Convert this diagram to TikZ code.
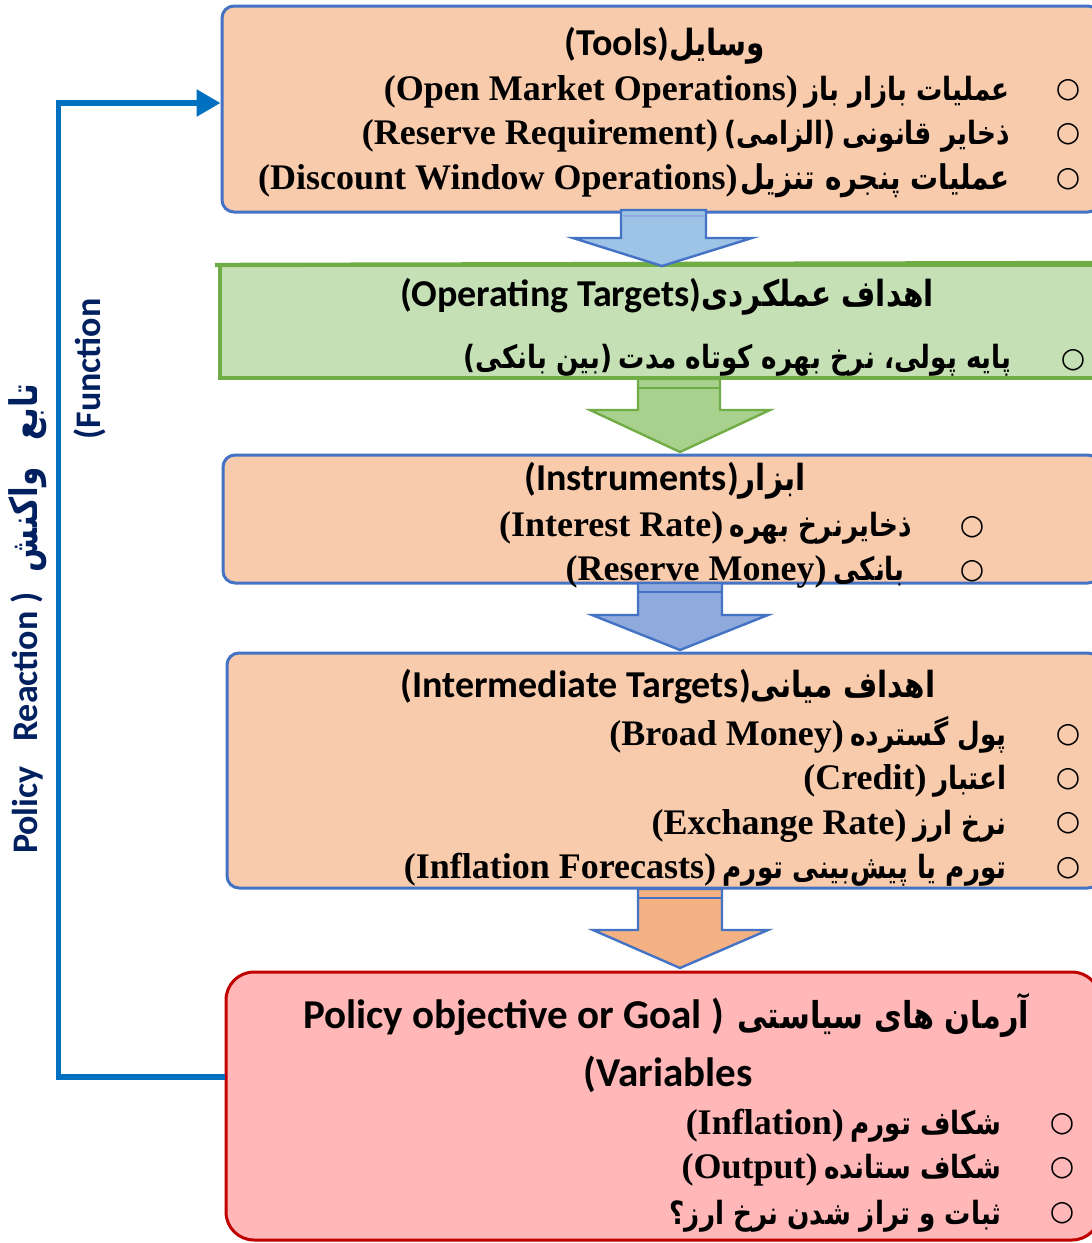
\documentclass[tikz,border=0pt]{standalone}
\usepackage{fontspec}
\usetikzlibrary{arrows.meta}
\TeXXeTstate=1
\newfontfamily\fafont[Script=Arabic,FakeStretch=0.82]{DejaVu Sans}
\newfontfamily\latserif{Liberation Serif}
\newfontfamily\latsans{Carlito}
\newfontfamily\symfont{DejaVu Sans}
\newcommand\fa[2][16]{{\fafont\bfseries\fontsize{#1pt}{#1pt}\selectfont\beginR #2\endR}}
\newcommand\fp[2][16]{{\fafont\bfseries\fontsize{#1pt}{#1pt}\selectfont #2}}
\newcommand\la[1]{{\latserif\bfseries\fontsize{18pt}{20pt}\selectfont #1}}
\newcommand\ti[2][19]{{\latsans\bfseries\fontsize{#1pt}{#1pt}\selectfont #2}}
\definecolor{peach}{HTML}{F8CBAD}
\definecolor{bblue}{HTML}{4472C4}
\definecolor{gfill}{HTML}{C5E0B4}
\definecolor{gline}{HTML}{70AD47}
\definecolor{a1fill}{HTML}{9DC3E6}
\definecolor{a2fill}{HTML}{A9D18E}
\definecolor{a3fill}{HTML}{8FAADC}
\definecolor{a4fill}{HTML}{F4B183}
\definecolor{pinkfill}{HTML}{FFB7B7}
\definecolor{redline}{HTML}{C00000}
\definecolor{fbblue}{HTML}{0070C0}
\definecolor{navy}{HTML}{002060}
\begin{document}
\begin{tikzpicture}[x=0.5pt,y=-0.5pt,
  peachbox/.style={draw=bblue,fill=peach,line width=1.5pt,rounded corners=6pt,inner sep=0pt},
  greenbox/.style={draw=gline,fill=gfill,line width=2pt,inner sep=0pt},
  goalbox/.style={draw=redline,fill=pinkfill,line width=1.5pt,rounded corners=14pt,inner sep=0pt},
  blockarrow/.style={line width=1.2pt,line join=miter},
  txt/.style={inner sep=0pt,anchor=base east},
  ttl/.style={inner sep=0pt,anchor=base},
  bul/.style={inner sep=0pt,font=\symfont\fontsize{14pt}{14pt}\selectfont},
  fb/.style={draw=fbblue,line width=2.8pt,-{Triangle[length=12pt,width=13pt]}},
  side/.style={inner sep=0pt,rotate=90,text=navy}
]
\useasboundingbox (0,0) rectangle (1092,1243);
\clip (0,0) rectangle (1092,1243);
\fill[white] (0,0) rectangle (1092,1243);

% boxes
\node[peachbox,minimum width=439pt,minimum height=103pt] (box1) at (661,109) {};
\node[greenbox,minimum width=440pt,minimum height=56.5pt] (box2) at (660,321.5) {};
\draw[gline,line width=2.2pt] (215,265) -- (box2.north east);
\node[peachbox,minimum width=438.5pt,minimum height=64pt] (box3) at (661.5,519) {};
\node[peachbox,minimum width=436.5pt,minimum height=117.5pt] (box4) at (663.5,770.5) {};
\node[goalbox,minimum width=437pt,minimum height=134pt] (box5) at (663,1106) {};

% block arrows
\filldraw[blockarrow,draw=bblue,fill=a1fill] (621,210) -- (706,210) -- (706,238) -- (752,238) -- (662,266) -- (573,238) -- (621,238) -- cycle;
\draw[bblue!60!white,line width=0.6pt] (623,216) -- (704,216);
\filldraw[blockarrow,draw=gline,fill=a2fill] (638,379) -- (720,379) -- (720,410) -- (770,410) -- (680,452) -- (590,410) -- (638,410) -- cycle;
\draw[gline,line width=1.2pt] (639,388) -- (719,388);
\filldraw[blockarrow,draw=bblue,fill=a3fill] (638,583) -- (722,583) -- (722,615) -- (768,615) -- (680,650) -- (592,615) -- (638,615) -- cycle;
\draw[bblue,line width=1.2pt] (639,592) -- (721,592);
\filldraw[blockarrow,draw=bblue,fill=a4fill] (638,889) -- (722,889) -- (722,930) -- (768,930) -- (680,968) -- (593,930) -- (638,930) -- cycle;
\draw[bblue,line width=1.2pt] (639,898) -- (721,898);

% feedback
\draw[fb] ([yshift=14.5pt]box5.west) -- ++(-166,0) |- ([yshift=3pt]box1.west);

% box 1 text
\node[ttl] (t1) at (665,55) {\ti{(Tools)}\fa[18]{وسایل}};
\node[txt] (i1a) at (1010,100) {\la{(Open Market Operations)}\ \fa{عملیات بازار باز}};
\node[txt] (i1b) at (1010,144) {\la{(Reserve Requirement)}\ \fp{)}\fa{الزامی}\fp{(}\ \fa{ذخایر قانونی}};
\node[txt] (i1c) at (1010,189) {\la{(Discount Window Operations)}\,\fa[17]{عملیات پنجره تنزیل}};
\node[bul] (b1a) at (1068,90) {○};
\node[bul] (b1b) at (1068,134) {○};
\node[bul] (b1c) at (1068,179) {○};

% box 2 text
\node[ttl] (t2) at (667,306) {\ti{(Operating Targets)}\fa[18]{اهداف عملکردی}};
\node[txt] (i2a) at (1012,368) {\fp{)}\fa{بین بانکی}\fp{(}\ \fa{پایه پولی، نرخ بهره کوتاه مدت}};
\node[bul] (b2a) at (1073,360) {○};

% box 3 text
\node[ttl] (t3) at (665,490) {\ti{(Instruments)}\fa[18]{ابزار}};
\node[txt] (i3a) at (912,536) {\la{(Interest Rate)}\ \fa{ذخایرنرخ بهره}};
\node[txt] (i3b) at (905,580) {\la{(Reserve Money)}\ \fa{بانکی}};
\node[bul] (b3a) at (972,527) {○};
\node[bul] (b3b) at (972,571) {○};

% box 4 text
\node[ttl] (t4) at (668,697) {\ti{(Intermediate Targets)}\fa[18]{اهداف میانی}};
\node[txt] (i4a) at (1007,745) {\la{(Broad Money)}\ \fa{پول گسترده}};
\node[txt] (i4b) at (1007,789) {\la{(Credit)}\ \fa{اعتبار}};
\node[txt] (i4c) at (1007,834) {\la{(Exchange Rate)}\ \fa{نرخ ارز}};
\node[txt] (i4d) at (1007,878) {\la{(Inflation Forecasts)}\ \fa{تورم یا پیش‌بینی تورم}};
\node[bul] (b4a) at (1068,735) {○};
\node[bul] (b4b) at (1068,779) {○};
\node[bul] (b4c) at (1068,823) {○};
\node[bul] (b4d) at (1068,868) {○};

% box 5 text
\node[ttl] (t5a) at (666,1028) {\ti[20.5]{Policy objective or Goal\ )}\ \ \fa[18.5]{آرمان های سیاستی}};
\node[ttl] (t5b) at (668,1086) {\ti[20.5]{(Variables}};
\node[txt] (i5a) at (1002,1134) {\la{(Inflation)}\ \fa{شکاف تورم}};
\node[txt] (i5b) at (1002,1178) {\la{(Output)}\ \fa{شکاف ستانده}};
\node[txt] (i5c) at (1002,1224) {\fp{؟}\fa{ثبات و تراز شدن نرخ ارز}};
\node[bul] (b5a) at (1062,1124) {○};
\node[bul] (b5b) at (1062,1168) {○};
\node[bul] (b5c) at (1062,1213) {○};

% side labels
\node[side] (s1) at (28,619) {\ti[18]{\color{navy}Policy\ \ \ Reaction\ )}\ \ \ {\color{navy}\fa[19]{واکنش}}\ \ \ \ {\color{navy}\fa[19]{تابع}}};
\node[side] (s2) at (90,369) {\ti[18]{\color{navy}(Function}};
\end{tikzpicture}
\end{document}
